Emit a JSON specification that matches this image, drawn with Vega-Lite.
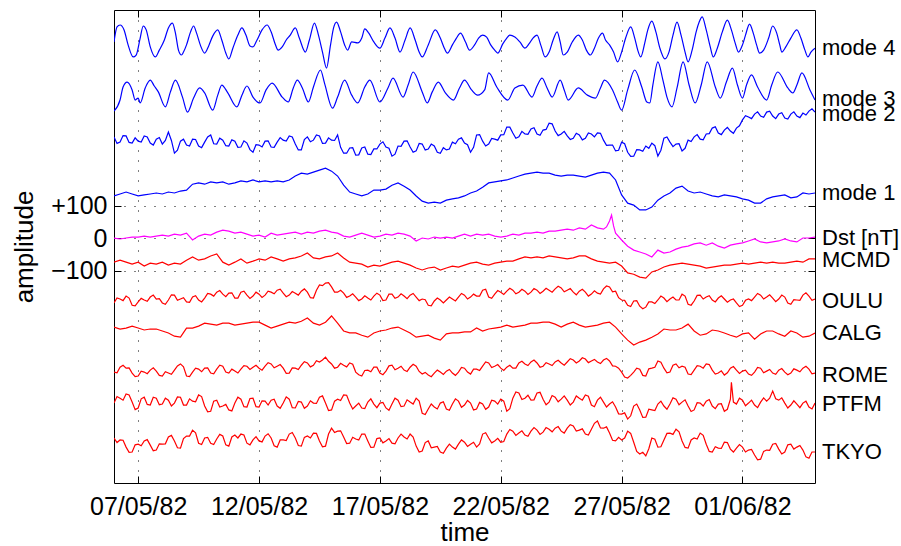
{
"$schema":"https://vega.github.io/schema/vega-lite/v6.json",
"width":701,"height":473,
"autosize":{"type":"none"},
"padding":{"left":114,"top":10,"right":86,"bottom":63},
"background":"#ffffff",
"config":{"font":"Liberation Sans","view":{"stroke":"#000000","strokeWidth":1},"axis":{"labelFont":"Liberation Sans","titleFont":"Liberation Sans","labelColor":"#000000","titleColor":"#000000","titleFontWeight":"normal","tickColor":"#000000","tickWidth":1,"domain":false,"labelFlush":false,"labelOverlap":false}},
"resolve":{"axis":{"x":"independent","y":"independent"}},
"data":{"values":[
{"h":0,"m2":311,"m1":130,"dst":1,"mcmd":-73,"oulu":-198,"calg":-272,"rome":-410,"ptfm":-505,"tkyo":-612},
{"h":6,"m2":295,"m1":136,"dst":-2,"mcmd":-67,"oulu":-186,"calg":-278,"rome":-395,"ptfm":-490,"tkyo":-618},
{"h":12,"m2":314,"m1":142,"dst":1,"mcmd":-73,"oulu":-177,"calg":-275,"rome":-398,"ptfm":-477,"tkyo":-640},
{"h":18,"m2":292,"m1":136,"dst":4,"mcmd":-79,"oulu":-205,"calg":-269,"rome":-413,"ptfm":-502,"tkyo":-655},
{"h":24,"m2":298,"m1":130,"dst":4,"mcmd":-73,"oulu":-195,"calg":-275,"rome":-422,"ptfm":-520,"tkyo":-631},
{"h":30,"m2":314,"m1":133,"dst":7,"mcmd":-85,"oulu":-189,"calg":-281,"rome":-410,"ptfm":-487,"tkyo":-621},
{"h":36,"m2":292,"m1":136,"dst":4,"mcmd":-76,"oulu":-180,"calg":-278,"rome":-404,"ptfm":-511,"tkyo":-634},
{"h":42,"m2":304,"m1":139,"dst":7,"mcmd":-79,"oulu":-186,"calg":-278,"rome":-407,"ptfm":-490,"tkyo":-649},
{"h":48,"m2":289,"m1":136,"dst":10,"mcmd":-73,"oulu":-198,"calg":-284,"rome":-422,"ptfm":-508,"tkyo":-631},
{"h":54,"m2":326,"m1":142,"dst":7,"mcmd":-82,"oulu":-189,"calg":-290,"rome":-413,"ptfm":-496,"tkyo":-609},
{"h":60,"m2":261,"m1":139,"dst":13,"mcmd":-76,"oulu":-174,"calg":-300,"rome":-404,"ptfm":-505,"tkyo":-621},
{"h":66,"m2":298,"m1":145,"dst":10,"mcmd":-79,"oulu":-186,"calg":-303,"rome":-385,"ptfm":-487,"tkyo":-643},
{"h":72,"m2":286,"m1":148,"dst":16,"mcmd":-67,"oulu":-195,"calg":-275,"rome":-422,"ptfm":-511,"tkyo":-606},
{"h":78,"m2":304,"m1":166,"dst":-5,"mcmd":-57,"oulu":-180,"calg":-275,"rome":-410,"ptfm":-499,"tkyo":-588},
{"h":84,"m2":283,"m1":170,"dst":7,"mcmd":-67,"oulu":-189,"calg":-269,"rome":-401,"ptfm":-480,"tkyo":-628},
{"h":90,"m2":295,"m1":166,"dst":13,"mcmd":-63,"oulu":-183,"calg":-260,"rome":-398,"ptfm":-514,"tkyo":-612},
{"h":96,"m2":317,"m1":173,"dst":10,"mcmd":-54,"oulu":-171,"calg":-263,"rome":-413,"ptfm":-530,"tkyo":-628},
{"h":102,"m2":289,"m1":170,"dst":19,"mcmd":-48,"oulu":-165,"calg":-266,"rome":-401,"ptfm":-496,"tkyo":-615},
{"h":108,"m2":301,"m1":173,"dst":25,"mcmd":-73,"oulu":-171,"calg":-260,"rome":-392,"ptfm":-514,"tkyo":-606},
{"h":114,"m2":283,"m1":166,"dst":22,"mcmd":-82,"oulu":-168,"calg":-260,"rome":-413,"ptfm":-526,"tkyo":-637},
{"h":120,"m2":298,"m1":170,"dst":16,"mcmd":-73,"oulu":-183,"calg":-266,"rome":-407,"ptfm":-505,"tkyo":-603},
{"h":126,"m2":280,"m1":176,"dst":19,"mcmd":-63,"oulu":-165,"calg":-263,"rome":-401,"ptfm":-493,"tkyo":-600},
{"h":132,"m2":292,"m1":173,"dst":13,"mcmd":-76,"oulu":-174,"calg":-260,"rome":-392,"ptfm":-517,"tkyo":-628},
{"h":138,"m2":264,"m1":179,"dst":7,"mcmd":-70,"oulu":-177,"calg":-257,"rome":-395,"ptfm":-490,"tkyo":-618},
{"h":144,"m2":286,"m1":173,"dst":10,"mcmd":-63,"oulu":-171,"calg":-257,"rome":-398,"ptfm":-517,"tkyo":-621},
{"h":150,"m2":298,"m1":176,"dst":4,"mcmd":-67,"oulu":-174,"calg":-266,"rome":-392,"ptfm":-499,"tkyo":-606},
{"h":156,"m2":280,"m1":173,"dst":16,"mcmd":-57,"oulu":-165,"calg":-275,"rome":-385,"ptfm":-496,"tkyo":-612},
{"h":162,"m2":295,"m1":176,"dst":10,"mcmd":-63,"oulu":-159,"calg":-269,"rome":-392,"ptfm":-514,"tkyo":-640},
{"h":168,"m2":301,"m1":173,"dst":13,"mcmd":-70,"oulu":-168,"calg":-263,"rome":-398,"ptfm":-505,"tkyo":-618},
{"h":174,"m2":314,"m1":179,"dst":16,"mcmd":-63,"oulu":-174,"calg":-257,"rome":-413,"ptfm":-493,"tkyo":-600},
{"h":180,"m2":289,"m1":191,"dst":19,"mcmd":-60,"oulu":-168,"calg":-260,"rome":-398,"ptfm":-520,"tkyo":-612},
{"h":186,"m2":271,"m1":200,"dst":13,"mcmd":-54,"oulu":-162,"calg":-254,"rome":-389,"ptfm":-502,"tkyo":-637},
{"h":192,"m2":311,"m1":197,"dst":19,"mcmd":-45,"oulu":-165,"calg":-244,"rome":-382,"ptfm":-514,"tkyo":-606},
{"h":198,"m2":301,"m1":203,"dst":16,"mcmd":-60,"oulu":-183,"calg":-260,"rome":-389,"ptfm":-505,"tkyo":-597},
{"h":204,"m2":314,"m1":209,"dst":22,"mcmd":-63,"oulu":-143,"calg":-266,"rome":-379,"ptfm":-487,"tkyo":-621},
{"h":210,"m2":292,"m1":215,"dst":25,"mcmd":-57,"oulu":-137,"calg":-257,"rome":-364,"ptfm":-505,"tkyo":-637},
{"h":216,"m2":301,"m1":206,"dst":19,"mcmd":-54,"oulu":-149,"calg":-238,"rome":-385,"ptfm":-526,"tkyo":-582},
{"h":222,"m2":317,"m1":191,"dst":16,"mcmd":-45,"oulu":-165,"calg":-260,"rome":-395,"ptfm":-493,"tkyo":-591},
{"h":228,"m2":261,"m1":163,"dst":7,"mcmd":-60,"oulu":-168,"calg":-284,"rome":-389,"ptfm":-480,"tkyo":-609},
{"h":234,"m2":277,"m1":142,"dst":4,"mcmd":-73,"oulu":-177,"calg":-290,"rome":-382,"ptfm":-505,"tkyo":-628},
{"h":240,"m2":255,"m1":136,"dst":10,"mcmd":-76,"oulu":-180,"calg":-290,"rome":-410,"ptfm":-514,"tkyo":-615},
{"h":246,"m2":277,"m1":130,"dst":16,"mcmd":-79,"oulu":-186,"calg":-297,"rome":-422,"ptfm":-520,"tkyo":-600},
{"h":252,"m2":258,"m1":136,"dst":10,"mcmd":-88,"oulu":-183,"calg":-303,"rome":-404,"ptfm":-502,"tkyo":-621},
{"h":258,"m2":274,"m1":148,"dst":4,"mcmd":-82,"oulu":-177,"calg":-290,"rome":-395,"ptfm":-508,"tkyo":-640},
{"h":264,"m2":289,"m1":148,"dst":7,"mcmd":-85,"oulu":-174,"calg":-284,"rome":-413,"ptfm":-505,"tkyo":-612},
{"h":270,"m2":280,"m1":151,"dst":13,"mcmd":-79,"oulu":-189,"calg":-281,"rome":-407,"ptfm":-520,"tkyo":-621},
{"h":276,"m2":252,"m1":163,"dst":10,"mcmd":-73,"oulu":-171,"calg":-275,"rome":-389,"ptfm":-508,"tkyo":-628},
{"h":282,"m2":283,"m1":170,"dst":16,"mcmd":-70,"oulu":-180,"calg":-272,"rome":-398,"ptfm":-496,"tkyo":-612},
{"h":288,"m2":298,"m1":160,"dst":13,"mcmd":-76,"oulu":-177,"calg":-281,"rome":-404,"ptfm":-514,"tkyo":-609},
{"h":294,"m2":280,"m1":148,"dst":7,"mcmd":-82,"oulu":-174,"calg":-290,"rome":-395,"ptfm":-502,"tkyo":-600},
{"h":300,"m2":268,"m1":130,"dst":-8,"mcmd":-91,"oulu":-180,"calg":-303,"rome":-392,"ptfm":-490,"tkyo":-637},
{"h":306,"m2":289,"m1":114,"dst":1,"mcmd":-97,"oulu":-186,"calg":-300,"rome":-416,"ptfm":-536,"tkyo":-652},
{"h":312,"m2":274,"m1":108,"dst":-2,"mcmd":-91,"oulu":-205,"calg":-297,"rome":-419,"ptfm":-523,"tkyo":-621},
{"h":318,"m2":283,"m1":111,"dst":4,"mcmd":-88,"oulu":-192,"calg":-306,"rome":-413,"ptfm":-517,"tkyo":-640},
{"h":324,"m2":261,"m1":108,"dst":1,"mcmd":-97,"oulu":-189,"calg":-312,"rome":-410,"ptfm":-505,"tkyo":-655},
{"h":330,"m2":271,"m1":117,"dst":4,"mcmd":-91,"oulu":-189,"calg":-293,"rome":-407,"ptfm":-523,"tkyo":-643},
{"h":336,"m2":295,"m1":121,"dst":1,"mcmd":-85,"oulu":-186,"calg":-290,"rome":-413,"ptfm":-508,"tkyo":-640},
{"h":342,"m2":304,"m1":124,"dst":7,"mcmd":-88,"oulu":-180,"calg":-290,"rome":-410,"ptfm":-499,"tkyo":-631},
{"h":348,"m2":292,"m1":130,"dst":13,"mcmd":-82,"oulu":-174,"calg":-287,"rome":-398,"ptfm":-511,"tkyo":-625},
{"h":354,"m2":264,"m1":139,"dst":7,"mcmd":-76,"oulu":-180,"calg":-287,"rome":-416,"ptfm":-505,"tkyo":-631},
{"h":360,"m2":317,"m1":145,"dst":13,"mcmd":-73,"oulu":-177,"calg":-275,"rome":-401,"ptfm":-523,"tkyo":-640},
{"h":366,"m2":298,"m1":157,"dst":10,"mcmd":-79,"oulu":-159,"calg":-284,"rome":-392,"ptfm":-508,"tkyo":-600},
{"h":372,"m2":289,"m1":170,"dst":13,"mcmd":-82,"oulu":-180,"calg":-278,"rome":-382,"ptfm":-517,"tkyo":-612},
{"h":378,"m2":304,"m1":173,"dst":7,"mcmd":-76,"oulu":-171,"calg":-275,"rome":-392,"ptfm":-499,"tkyo":-621},
{"h":384,"m2":317,"m1":176,"dst":4,"mcmd":-73,"oulu":-165,"calg":-272,"rome":-398,"ptfm":-493,"tkyo":-625},
{"h":390,"m2":341,"m1":179,"dst":7,"mcmd":-70,"oulu":-162,"calg":-266,"rome":-395,"ptfm":-530,"tkyo":-600},
{"h":396,"m2":323,"m1":185,"dst":13,"mcmd":-70,"oulu":-159,"calg":-272,"rome":-398,"ptfm":-490,"tkyo":-591},
{"h":402,"m2":311,"m1":191,"dst":10,"mcmd":-63,"oulu":-165,"calg":-269,"rome":-382,"ptfm":-474,"tkyo":-597},
{"h":408,"m2":320,"m1":197,"dst":16,"mcmd":-57,"oulu":-162,"calg":-266,"rome":-385,"ptfm":-490,"tkyo":-603},
{"h":414,"m2":335,"m1":200,"dst":16,"mcmd":-60,"oulu":-165,"calg":-260,"rome":-379,"ptfm":-496,"tkyo":-591},
{"h":420,"m2":320,"m1":203,"dst":19,"mcmd":-57,"oulu":-159,"calg":-260,"rome":-382,"ptfm":-474,"tkyo":-588},
{"h":426,"m2":332,"m1":200,"dst":16,"mcmd":-60,"oulu":-162,"calg":-257,"rome":-392,"ptfm":-493,"tkyo":-594},
{"h":432,"m2":353,"m1":200,"dst":22,"mcmd":-54,"oulu":-159,"calg":-257,"rome":-385,"ptfm":-502,"tkyo":-585},
{"h":438,"m2":329,"m1":194,"dst":22,"mcmd":-57,"oulu":-155,"calg":-263,"rome":-379,"ptfm":-487,"tkyo":-582},
{"h":444,"m2":320,"m1":191,"dst":25,"mcmd":-60,"oulu":-152,"calg":-272,"rome":-382,"ptfm":-493,"tkyo":-591},
{"h":450,"m2":314,"m1":194,"dst":28,"mcmd":-63,"oulu":-159,"calg":-263,"rome":-379,"ptfm":-496,"tkyo":-582},
{"h":456,"m2":307,"m1":194,"dst":25,"mcmd":-60,"oulu":-165,"calg":-257,"rome":-373,"ptfm":-502,"tkyo":-575},
{"h":462,"m2":317,"m1":191,"dst":32,"mcmd":-54,"oulu":-162,"calg":-266,"rome":-376,"ptfm":-490,"tkyo":-588},
{"h":468,"m2":307,"m1":188,"dst":28,"mcmd":-54,"oulu":-165,"calg":-272,"rome":-370,"ptfm":-480,"tkyo":-600},
{"h":474,"m2":320,"m1":194,"dst":41,"mcmd":-63,"oulu":-171,"calg":-269,"rome":-376,"ptfm":-511,"tkyo":-585},
{"h":480,"m2":323,"m1":200,"dst":32,"mcmd":-70,"oulu":-168,"calg":-266,"rome":-379,"ptfm":-496,"tkyo":-560},
{"h":486,"m2":301,"m1":203,"dst":28,"mcmd":-73,"oulu":-155,"calg":-260,"rome":-373,"ptfm":-502,"tkyo":-582},
{"h":492,"m2":286,"m1":200,"dst":53,"mcmd":-76,"oulu":-149,"calg":-257,"rome":-376,"ptfm":-508,"tkyo":-597},
{"h":494,"dst":71},
{"h":496,"dst":38},
{"h":498,"m2":268,"m1":179,"dst":16,"mcmd":-73,"oulu":-162,"calg":-272,"rome":-392,"ptfm":-517,"tkyo":-621},
{"h":504,"m2":295,"m1":133,"dst":-5,"mcmd":-85,"oulu":-189,"calg":-293,"rome":-410,"ptfm":-539,"tkyo":-618},
{"h":510,"m2":264,"m1":108,"dst":-24,"mcmd":-106,"oulu":-205,"calg":-312,"rome":-428,"ptfm":-554,"tkyo":-591},
{"h":516,"m2":252,"m1":102,"dst":-36,"mcmd":-110,"oulu":-192,"calg":-327,"rome":-410,"ptfm":-514,"tkyo":-625},
{"h":522,"m2":271,"m1":87,"dst":-42,"mcmd":-119,"oulu":-208,"calg":-318,"rome":-401,"ptfm":-526,"tkyo":-661},
{"h":528,"m2":283,"m1":87,"dst":-48,"mcmd":-122,"oulu":-211,"calg":-312,"rome":-422,"ptfm":-548,"tkyo":-667},
{"h":534,"m2":292,"m1":96,"dst":-57,"mcmd":-103,"oulu":-195,"calg":-303,"rome":-398,"ptfm":-526,"tkyo":-612},
{"h":540,"m2":252,"m1":117,"dst":-36,"mcmd":-97,"oulu":-189,"calg":-293,"rome":-376,"ptfm":-508,"tkyo":-640},
{"h":546,"m2":307,"m1":130,"dst":-45,"mcmd":-88,"oulu":-183,"calg":-278,"rome":-398,"ptfm":-514,"tkyo":-618},
{"h":552,"m2":295,"m1":139,"dst":-42,"mcmd":-82,"oulu":-186,"calg":-281,"rome":-410,"ptfm":-508,"tkyo":-597},
{"h":558,"m2":289,"m1":154,"dst":-33,"mcmd":-79,"oulu":-189,"calg":-281,"rome":-385,"ptfm":-493,"tkyo":-585},
{"h":564,"m2":268,"m1":160,"dst":-27,"mcmd":-76,"oulu":-171,"calg":-275,"rome":-392,"ptfm":-502,"tkyo":-621},
{"h":570,"m2":301,"m1":145,"dst":-24,"mcmd":-79,"oulu":-202,"calg":-263,"rome":-416,"ptfm":-514,"tkyo":-643},
{"h":576,"m2":311,"m1":139,"dst":-17,"mcmd":-82,"oulu":-192,"calg":-284,"rome":-404,"ptfm":-526,"tkyo":-612},
{"h":582,"m2":304,"m1":142,"dst":-14,"mcmd":-85,"oulu":-174,"calg":-297,"rome":-392,"ptfm":-505,"tkyo":-597},
{"h":588,"m2":320,"m1":136,"dst":-21,"mcmd":-91,"oulu":-180,"calg":-293,"rome":-385,"ptfm":-499,"tkyo":-631},
{"h":594,"m2":338,"m1":130,"dst":-14,"mcmd":-88,"oulu":-189,"calg":-281,"rome":-404,"ptfm":-514,"tkyo":-655},
{"h":600,"m2":323,"m1":127,"dst":-24,"mcmd":-85,"oulu":-183,"calg":-284,"rome":-413,"ptfm":-508,"tkyo":-643},
{"h":606,"m2":332,"m1":133,"dst":-30,"mcmd":-82,"oulu":-186,"calg":-290,"rome":-419,"ptfm":-530,"tkyo":-625},
{"h":612,"m2":329,"m1":130,"dst":-21,"mcmd":-82,"oulu":-189,"calg":-297,"rome":-398,"ptfm":-493,"tkyo":-646},
{"h":613,"ptfm":-441},
{"h":618,"m2":338,"m1":127,"dst":-17,"mcmd":-79,"oulu":-198,"calg":-303,"rome":-404,"ptfm":-508,"tkyo":-643},
{"h":624,"m2":363,"m1":121,"dst":-14,"mcmd":-76,"oulu":-205,"calg":-293,"rome":-407,"ptfm":-496,"tkyo":-640},
{"h":630,"m2":372,"m1":117,"dst":-8,"mcmd":-79,"oulu":-186,"calg":-290,"rome":-416,"ptfm":-505,"tkyo":-649},
{"h":636,"m2":381,"m1":108,"dst":-2,"mcmd":-76,"oulu":-180,"calg":-309,"rome":-410,"ptfm":-511,"tkyo":-664},
{"h":642,"m2":375,"m1":108,"dst":-11,"mcmd":-73,"oulu":-174,"calg":-293,"rome":-398,"ptfm":-502,"tkyo":-677},
{"h":648,"m2":387,"m1":121,"dst":-14,"mcmd":-76,"oulu":-180,"calg":-284,"rome":-407,"ptfm":-499,"tkyo":-649},
{"h":654,"m2":375,"m1":127,"dst":-11,"mcmd":-73,"oulu":-183,"calg":-284,"rome":-413,"ptfm":-468,"tkyo":-631},
{"h":660,"m2":381,"m1":130,"dst":-8,"mcmd":-76,"oulu":-186,"calg":-293,"rome":-404,"ptfm":-496,"tkyo":-646},
{"h":666,"m2":369,"m1":133,"dst":-2,"mcmd":-76,"oulu":-180,"calg":-300,"rome":-410,"ptfm":-505,"tkyo":-655},
{"h":672,"m2":381,"m1":124,"dst":-8,"mcmd":-73,"oulu":-202,"calg":-284,"rome":-413,"ptfm":-511,"tkyo":-631},
{"h":678,"m2":375,"m1":127,"dst":-11,"mcmd":-70,"oulu":-189,"calg":-290,"rome":-404,"ptfm":-508,"tkyo":-640},
{"h":684,"m2":384,"m1":139,"dst":1,"mcmd":-73,"oulu":-174,"calg":-303,"rome":-398,"ptfm":-505,"tkyo":-649},
{"h":690,"m2":390,"m1":136,"dst":1,"mcmd":-63,"oulu":-177,"calg":-300,"rome":-401,"ptfm":-517,"tkyo":-674},
{"h":696,"m2":387,"m1":139,"dst":4,"mcmd":-63,"oulu":-186,"calg":-290,"rome":-413,"ptfm":-505,"tkyo":-655},
{"h":3,"m2":291,"oulu":-183,"rome":-412,"ptfm":-485,"tkyo":-626},
{"h":9,"m2":315,"oulu":-191,"rome":-389,"ptfm":-496,"tkyo":-619},
{"h":15,"m2":294,"oulu":-183,"rome":-397,"ptfm":-480,"tkyo":-656},
{"h":21,"m2":308,"oulu":-207,"rome":-424,"ptfm":-525,"tkyo":-633},
{"h":27,"m2":295,"oulu":-184,"rome":-407,"ptfm":-492,"tkyo":-636},
{"h":33,"m2":311,"oulu":-193,"rome":-415,"ptfm":-509,"tkyo":-617},
{"h":39,"m2":286,"oulu":-174,"rome":-397,"ptfm":-487,"tkyo":-651},
{"h":45,"m2":309,"oulu":-185,"rome":-420,"ptfm":-510,"tkyo":-630},
{"h":51,"m2":300,"oulu":-202,"rome":-409,"ptfm":-490,"tkyo":-630},
{"h":57,"m2":300,"oulu":-173,"rome":-417,"ptfm":-514,"tkyo":-604},
{"h":63,"m2":270,"oulu":-190,"rome":-391,"ptfm":-486,"tkyo":-642},
{"h":69,"m2":304,"oulu":-182,"rome":-394,"ptfm":-511,"tkyo":-614},
{"h":75,"m2":283,"oulu":-196,"rome":-424,"ptfm":-492,"tkyo":-606},
{"h":81,"m2":303,"oulu":-176,"rome":-398,"ptfm":-501,"tkyo":-596},
{"h":87,"m2":278,"oulu":-195,"rome":-409,"ptfm":-485,"tkyo":-632},
{"h":93,"m2":311,"oulu":-169,"rome":-397,"ptfm":-532,"tkyo":-610},
{"h":99,"m2":290,"oulu":-177,"rome":-415,"ptfm":-499,"tkyo":-632},
{"h":105,"m2":307,"oulu":-160,"rome":-389,"ptfm":-517,"tkyo":-601},
{"h":111,"m2":284,"oulu":-179,"rome":-410,"ptfm":-509,"tkyo":-633},
{"h":117,"m2":302,"oulu":-167,"rome":-401,"ptfm":-529,"tkyo":-609},
{"h":123,"m2":279,"oulu":-183,"rome":-413,"ptfm":-487,"tkyo":-612},
{"h":129,"m2":299,"oulu":-162,"rome":-390,"ptfm":-516,"tkyo":-603},
{"h":135,"m2":272,"oulu":-184,"rome":-402,"ptfm":-491,"tkyo":-633},
{"h":141,"m2":287,"oulu":-165,"rome":-389,"ptfm":-516,"tkyo":-608},
{"h":147,"m2":280,"oulu":-181,"rome":-404,"ptfm":-498,"tkyo":-624},
{"h":153,"m2":299,"oulu":-162,"rome":-381,"ptfm":-511,"tkyo":-599},
{"h":159,"m2":279,"oulu":-170,"rome":-397,"ptfm":-493,"tkyo":-636},
{"h":165,"m2":309,"oulu":-156,"rome":-387,"ptfm":-521,"tkyo":-618},
{"h":171,"m2":298,"oulu":-179,"rome":-414,"ptfm":-486,"tkyo":-620},
{"h":177,"m2":311,"oulu":-163,"rome":-397,"ptfm":-519,"tkyo":-595},
{"h":183,"m2":271,"oulu":-174,"rome":-402,"ptfm":-500,"tkyo":-635},
{"h":189,"m2":303,"oulu":-155,"rome":-378,"ptfm":-521,"tkyo":-610},
{"h":195,"m2":296,"oulu":-182,"rome":-394,"ptfm":-498,"tkyo":-612},
{"h":201,"m2":317,"oulu":-159,"rome":-375,"ptfm":-506,"tkyo":-598},
{"h":207,"m2":291,"oulu":-145,"rome":-373,"ptfm":-483,"tkyo":-639},
{"h":213,"m2":308,"oulu":-136,"rome":-377,"ptfm":-528,"tkyo":-600},
{"h":219,"m2":300,"oulu":-165,"rome":-398,"ptfm":-499,"tkyo":-595},
{"h":225,"m2":279,"oulu":-159,"rome":-383,"ptfm":-497,"tkyo":-590},
{"h":231,"m2":261,"oulu":-181,"rome":-394,"ptfm":-481,"tkyo":-629},
{"h":237,"m2":278,"oulu":-170,"rome":-386,"ptfm":-523,"tkyo":-610},
{"h":243,"m2":256,"oulu":-191,"rome":-418,"ptfm":-505,"tkyo":-618},
{"h":249,"m2":280,"oulu":-176,"rome":-405,"ptfm":-522,"tkyo":-600},
{"h":255,"m2":257,"oulu":-189,"rome":-409,"ptfm":-492,"tkyo":-641},
{"h":261,"m2":274,"oulu":-168,"rome":-395,"ptfm":-519,"tkyo":-614},
{"h":267,"m2":296,"oulu":-191,"rome":-418,"ptfm":-503,"tkyo":-627},
{"h":273,"m2":276,"oulu":-171,"rome":-391,"ptfm":-527,"tkyo":-614},
{"h":279,"m2":258,"oulu":-184,"rome":-403,"ptfm":-490,"tkyo":-630},
{"h":285,"m2":282,"oulu":-170,"rome":-392,"ptfm":-516,"tkyo":-600},
{"h":291,"m2":299,"oulu":-185,"rome":-408,"ptfm":-495,"tkyo":-615},
{"h":297,"m2":264,"oulu":-169,"rome":-386,"ptfm":-508,"tkyo":-609},
{"h":303,"m2":291,"oulu":-191,"rome":-408,"ptfm":-499,"tkyo":-655},
{"h":309,"m2":271,"oulu":-188,"rome":-411,"ptfm":-540,"tkyo":-626},
{"h":315,"m2":289,"oulu":-207,"rome":-424,"ptfm":-508,"tkyo":-642},
{"h":321,"m2":264,"oulu":-183,"rome":-404,"ptfm":-523,"tkyo":-638},
{"h":327,"m2":278,"oulu":-198,"rome":-417,"ptfm":-501,"tkyo":-659},
{"h":333,"m2":274,"oulu":-180,"rome":-402,"ptfm":-527,"tkyo":-631},
{"h":339,"m2":290,"oulu":-192,"rome":-420,"ptfm":-492,"tkyo":-646},
{"h":345,"m2":308,"oulu":-169,"rome":-396,"ptfm":-518,"tkyo":-618},
{"h":351,"m2":287,"oulu":-186,"rome":-410,"ptfm":-497,"tkyo":-638},
{"h":357,"m2":279,"oulu":-171,"rome":-401,"ptfm":-526,"tkyo":-625},
{"h":363,"m2":318,"oulu":-177,"rome":-405,"ptfm":-503,"tkyo":-630},
{"h":369,"m2":283,"oulu":-156,"rome":-379,"ptfm":-524,"tkyo":-596},
{"h":375,"m2":306,"oulu":-184,"rome":-396,"ptfm":-496,"tkyo":-627},
{"h":381,"m2":301,"oulu":-160,"rome":-387,"ptfm":-508,"tkyo":-613},
{"h":387,"m2":318,"oulu":-172,"rome":-405,"ptfm":-499,"tkyo":-623},
{"h":393,"m2":341,"oulu":-153,"rome":-389,"ptfm":-522,"tkyo":-586},
{"h":399,"m2":307,"oulu":-170,"rome":-398,"ptfm":-471,"tkyo":-604},
{"h":405,"m2":328,"oulu":-156,"rome":-377,"ptfm":-494,"tkyo":-590},
{"h":411,"m2":319,"oulu":-172,"rome":-390,"ptfm":-481,"tkyo":-607},
{"h":417,"m2":339,"oulu":-154,"rome":-373,"ptfm":-495,"tkyo":-580},
{"h":423,"m2":316,"oulu":-169,"rome":-395,"ptfm":-472,"tkyo":-601},
{"h":429,"m2":334,"oulu":-153,"rome":-381,"ptfm":-510,"tkyo":-580},
{"h":435,"m2":351,"oulu":-165,"rome":-390,"ptfm":-482,"tkyo":-593},
{"h":441,"m2":315,"oulu":-147,"rome":-374,"ptfm":-501,"tkyo":-577},
{"h":447,"m2":328,"oulu":-164,"rome":-389,"ptfm":-483,"tkyo":-597},
{"h":453,"m2":303,"oulu":-154,"rome":-369,"ptfm":-511,"tkyo":-571},
{"h":459,"m2":322,"oulu":-173,"rome":-382,"ptfm":-483,"tkyo":-591},
{"h":465,"m2":302,"oulu":-156,"rome":-366,"ptfm":-496,"tkyo":-584},
{"h":471,"m2":323,"oulu":-177,"rome":-381,"ptfm":-484,"tkyo":-603},
{"h":477,"m2":311,"oulu":-161,"rome":-371,"ptfm":-516,"tkyo":-567},
{"h":483,"m2":322,"oulu":-171,"rome":-384,"ptfm":-487,"tkyo":-581},
{"h":489,"m2":285,"oulu":-146,"rome":-368,"ptfm":-517,"tkyo":-578,"dst":35},
{"h":495,"m2":286,"oulu":-164,"rome":-391,"ptfm":-501,"tkyo":-619},
{"h":501,"m2":270,"oulu":-182,"rome":-398,"ptfm":-538,"tkyo":-610},
{"h":507,"m2":290,"oulu":-190,"rome":-425,"ptfm":-535,"tkyo":-612},
{"h":513,"m2":251,"oulu":-209,"rome":-420,"ptfm":-544,"tkyo":-598},
{"h":519,"m2":272,"oulu":-191,"rome":-398,"ptfm":-508,"tkyo":-653},
{"h":525,"m2":267,"oulu":-216,"rome":-420,"ptfm":-549,"tkyo":-656},
{"h":531,"m2":276,"oulu":-195,"rome":-400,"ptfm":-524,"tkyo":-645},
{"h":537,"m2":284,"oulu":-200,"rome":-395,"ptfm":-528,"tkyo":-616},
{"h":543,"m2":270,"oulu":-177,"rome":-380,"ptfm":-499,"tkyo":-639},
{"h":549,"m2":311,"oulu":-194,"rome":-412,"ptfm":-524,"tkyo":-598},
{"h":555,"m2":281,"oulu":-180,"rome":-389,"ptfm":-489,"tkyo":-601},
{"h":561,"m2":290,"oulu":-189,"rome":-397,"ptfm":-510,"tkyo":-593},
{"h":567,"m2":276,"oulu":-177,"rome":-395,"ptfm":-495,"tkyo":-641},
{"h":573,"m2":297,"oulu":-205,"rome":-418,"ptfm":-531,"tkyo":-618},
{"h":579,"m2":318,"oulu":-175,"rome":-390,"ptfm":-504,"tkyo":-615},
{"h":585,"m2":302,"oulu":-186,"rome":-398,"ptfm":-514,"tkyo":-604},
{"h":591,"m2":321,"oulu":-176,"rome":-387,"ptfm":-494,"tkyo":-653},
{"h":597,"m2":342,"oulu":-195,"rome":-416,"ptfm":-522,"tkyo":-639},
{"h":603,"m2":318,"oulu":-176,"rome":-406,"ptfm":-507,"tkyo":-644},
{"h":609,"m2":340,"oulu":-196,"rome":-412,"ptfm":-524,"tkyo":-626},
{"h":615,"m2":322,"oulu":-186,"rome":-393,"ptfm":-502,"tkyo":-655},
{"h":621,"m2":345,"oulu":-209,"rome":-414,"ptfm":-490,"tkyo":-632},
{"h":627,"m2":376,"oulu":-190,"rome":-404,"ptfm":-513,"tkyo":-655},
{"h":633,"m2":367,"oulu":-191,"rome":-420,"ptfm":-496,"tkyo":-647},
{"h":639,"m2":388,"oulu":-169,"rome":-396,"ptfm":-519,"tkyo":-679},
{"h":645,"m2":371,"oulu":-186,"rome":-412,"ptfm":-489,"tkyo":-653},
{"h":651,"m2":390,"oulu":-173,"rome":-402,"ptfm":-490,"tkyo":-650},
{"h":657,"m2":367,"oulu":-194,"rome":-417,"ptfm":-492,"tkyo":-629},
{"h":663,"m2":385,"oulu":-174,"rome":-399,"ptfm":-489,"tkyo":-661},
{"h":669,"m2":366,"oulu":-198,"rome":-418,"ptfm":-520,"tkyo":-633},
{"h":675,"m2":388,"oulu":-188,"rome":-400,"ptfm":-498,"tkyo":-646},
{"h":681,"m2":370,"oulu":-190,"rome":-409,"ptfm":-519,"tkyo":-635},
{"h":687,"m2":378,"oulu":-167,"rome":-392,"ptfm":-499,"tkyo":-670},
{"h":693,"m2":397,"oulu":-190,"rome":-415,"ptfm":-523,"tkyo":-655},
{"h":0,"m4":602},{"h":3,"m4":648},{"h":6,"m4":654},{"h":10,"m4":639},{"h":14,"m4":593},{"h":19,"m4":556},{"h":22,"m4":562},{"h":26,"m4":614},{"h":29,"m4":651},{"h":32,"m4":639},{"h":36,"m4":587},{"h":41,"m4":556},{"h":45,"m4":577},{"h":50,"m4":608},{"h":54,"m4":645},{"h":58,"m4":660},{"h":61,"m4":629},{"h":64,"m4":577},{"h":67,"m4":562},{"h":69,"m4":571},{"h":72,"m4":593},{"h":76,"m4":633},{"h":79,"m4":651},{"h":82,"m4":629},{"h":86,"m4":590},{"h":90,"m4":568},{"h":94,"m4":590},{"h":98,"m4":620},{"h":103,"m4":639},{"h":107,"m4":608},{"h":111,"m4":568},{"h":114,"m4":550},{"h":118,"m4":583},{"h":123,"m4":623},{"h":127,"m4":645},{"h":131,"m4":623},{"h":135,"m4":590},{"h":138,"m4":587},{"h":142,"m4":608},{"h":147,"m4":639},{"h":152,"m4":654},{"h":156,"m4":633},{"h":160,"m4":596},{"h":163,"m4":577},{"h":167,"m4":587},{"h":171,"m4":608},{"h":175,"m4":623},{"h":180,"m4":645},{"h":184,"m4":614},{"h":190,"m4":571},{"h":194,"m4":608},{"h":199,"m4":660},{"h":203,"m4":623},{"h":207,"m4":571},{"h":211,"m4":522},{"h":215,"m4":593},{"h":218,"m4":645},{"h":221,"m4":663},{"h":225,"m4":633},{"h":229,"m4":593},{"h":232,"m4":577},{"h":236,"m4":602},{"h":242,"m4":599},{"h":246,"m4":614},{"h":249,"m4":642},{"h":253,"m4":629},{"h":258,"m4":602},{"h":264,"m4":583},{"h":269,"m4":614},{"h":274,"m4":645},{"h":279,"m4":614},{"h":284,"m4":571},{"h":289,"m4":608},{"h":294,"m4":645},{"h":299,"m4":608},{"h":303,"m4":571},{"h":306,"m4":556},{"h":312,"m4":593},{"h":319,"m4":639},{"h":324,"m4":614},{"h":328,"m4":583},{"h":331,"m4":568},{"h":336,"m4":593},{"h":340,"m4":614},{"h":344,"m4":629},{"h":349,"m4":602},{"h":353,"m4":577},{"h":358,"m4":593},{"h":362,"m4":614},{"h":366,"m4":623},{"h":370,"m4":617},{"h":374,"m4":593},{"h":378,"m4":577},{"h":381,"m4":568},{"h":386,"m4":596},{"h":390,"m4":614},{"h":393,"m4":623},{"h":398,"m4":617},{"h":403,"m4":602},{"h":408,"m4":583},{"h":412,"m4":596},{"h":416,"m4":614},{"h":420,"m4":623},{"h":424,"m4":590},{"h":428,"m4":556},{"h":432,"m4":571},{"h":436,"m4":608},{"h":440,"m4":633},{"h":443,"m4":602},{"h":446,"m4":562},{"h":450,"m4":571},{"h":455,"m4":602},{"h":461,"m4":623},{"h":465,"m4":608},{"h":469,"m4":577},{"h":473,"m4":562},{"h":477,"m4":583},{"h":481,"m4":614},{"h":485,"m4":629},{"h":488,"m4":608},{"h":492,"m4":593},{"h":496,"m4":571},{"h":500,"m4":541},{"h":504,"m4":571},{"h":508,"m4":614},{"h":513,"m4":648},{"h":517,"m4":614},{"h":520,"m4":577},{"h":523,"m4":556},{"h":527,"m4":599},{"h":530,"m4":639},{"h":534,"m4":666},{"h":538,"m4":633},{"h":542,"m4":583},{"h":547,"m4":550},{"h":551,"m4":571},{"h":555,"m4":623},{"h":559,"m4":663},{"h":563,"m4":623},{"h":567,"m4":571},{"h":570,"m4":541},{"h":574,"m4":577},{"h":578,"m4":633},{"h":581,"m4":663},{"h":584,"m4":679},{"h":588,"m4":639},{"h":592,"m4":587},{"h":595,"m4":556},{"h":599,"m4":583},{"h":604,"m4":633},{"h":609,"m4":669},{"h":613,"m4":639},{"h":617,"m4":596},{"h":620,"m4":571},{"h":624,"m4":593},{"h":627,"m4":623},{"h":631,"m4":657},{"h":635,"m4":626},{"h":638,"m4":593},{"h":641,"m4":568},{"h":645,"m4":577},{"h":650,"m4":614},{"h":654,"m4":651},{"h":658,"m4":629},{"h":661,"m4":593},{"h":663,"m4":571},{"h":667,"m4":587},{"h":672,"m4":614},{"h":678,"m4":639},{"h":682,"m4":614},{"h":686,"m4":577},{"h":689,"m4":556},{"h":692,"m4":571},{"h":696,"m4":583},
{"h":0,"m3":390},{"h":6,"m3":424},{"h":9,"m3":464},{"h":13,"m3":479},{"h":18,"m3":455},{"h":21,"m3":424},{"h":24,"m3":430},{"h":26,"m3":415},{"h":31,"m3":461},{"h":36,"m3":485},{"h":40,"m3":467},{"h":44,"m3":449},{"h":51,"m3":403},{"h":56,"m3":449},{"h":61,"m3":485},{"h":68,"m3":433},{"h":73,"m3":387},{"h":79,"m3":430},{"h":85,"m3":461},{"h":90,"m3":446},{"h":98,"m3":393},{"h":103,"m3":439},{"h":107,"m3":470},{"h":113,"m3":446},{"h":122,"m3":403},{"h":127,"m3":439},{"h":132,"m3":467},{"h":138,"m3":433},{"h":145,"m3":415},{"h":151,"m3":455},{"h":157,"m3":476},{"h":167,"m3":433},{"h":173,"m3":418},{"h":178,"m3":461},{"h":182,"m3":485},{"h":187,"m3":461},{"h":193,"m3":418},{"h":198,"m3":464},{"h":205,"m3":516},{"h":209,"m3":476},{"h":217,"m3":399},{"h":222,"m3":433},{"h":229,"m3":485},{"h":236,"m3":439},{"h":242,"m3":415},{"h":249,"m3":464},{"h":254,"m3":485},{"h":264,"m3":418},{"h":272,"m3":461},{"h":277,"m3":491},{"h":287,"m3":433},{"h":292,"m3":470},{"h":297,"m3":510},{"h":306,"m3":449},{"h":311,"m3":415},{"h":316,"m3":449},{"h":322,"m3":479},{"h":329,"m3":446},{"h":337,"m3":424},{"h":343,"m3":461},{"h":348,"m3":485},{"h":355,"m3":455},{"h":361,"m3":439},{"h":368,"m3":455},{"h":372,"m3":507},{"h":380,"m3":464},{"h":391,"m3":424},{"h":398,"m3":461},{"h":406,"m3":470},{"h":415,"m3":433},{"h":420,"m3":467},{"h":425,"m3":491},{"h":430,"m3":461},{"h":435,"m3":433},{"h":443,"m3":485},{"h":447,"m3":455},{"h":451,"m3":424},{"h":461,"m3":461},{"h":470,"m3":439},{"h":478,"m3":430},{"h":483,"m3":461},{"h":487,"m3":485},{"h":495,"m3":455},{"h":500,"m3":418},{"h":504,"m3":393},{"h":510,"m3":455},{"h":517,"m3":516},{"h":524,"m3":464},{"h":529,"m3":418},{"h":532,"m3":415},{"h":535,"m3":470},{"h":540,"m3":541},{"h":545,"m3":485},{"h":549,"m3":433},{"h":554,"m3":403},{"h":559,"m3":461},{"h":565,"m3":541},{"h":571,"m3":470},{"h":577,"m3":415},{"h":583,"m3":470},{"h":589,"m3":541},{"h":597,"m3":464},{"h":602,"m3":430},{"h":608,"m3":479},{"h":614,"m3":522},{"h":619,"m3":470},{"h":624,"m3":430},{"h":628,"m3":470},{"h":633,"m3":501},{"h":639,"m3":464},{"h":648,"m3":424},{"h":653,"m3":470},{"h":659,"m3":510},{"h":669,"m3":461},{"h":674,"m3":446},{"h":678,"m3":470},{"h":683,"m3":507},{"h":691,"m3":455},{"h":696,"m3":424}
]},
"layer":[
{"transform":[{"fold":["m4","m3"],"as":["series","value"]},{"filter":"isValid(datum.value)"}],
"mark":{"type":"line","strokeWidth":1.2,"clip":true,"interpolate":"monotone"},
"encoding":{
"x":{"field":"h","type":"quantitative","scale":{"domain":[0,696],"nice":false,"zero":false},
"axis":{"orient":"bottom","values":[24,144,264,384,504,624],"labelExpr":"timeFormat(datetime(1982,4,6,datum.value),'%d/%m/%y')","labelFontSize":25,"labelPadding":18,"tickSize":-7,"grid":true,"gridColor":"#000000","gridDash":[1,9],"gridWidth":1,"title":"time","titleFontSize":26,"titleY":57,"titleBaseline":"alphabetic"}},
"y":{"field":"value","type":"quantitative","scale":{"domain":[-750,700],"nice":false,"zero":false},
"axis":{"orient":"left","values":[-100,0,100],"labelExpr":"datum.value > 0 ? '+' + datum.label : datum.label","labelFontSize":25,"labelPadding":14,"tickSize":-7,"grid":true,"gridColor":"#000000","gridDash":[1,9],"gridWidth":1,"title":"amplitude","titleFontSize":26,"titleX":-82,"titleY":236.5,"titleAngle":270,"titleAlign":"center","titleBaseline":"alphabetic"}},
"color":{"field":"series","type":"nominal","legend":null,"scale":{"domain":["m4","m3","m2","m1","dst","mcmd","oulu","calg","rome","ptfm","tkyo"],"range":["#0000ff","#0000ff","#0000ff","#0000ff","#ff00ff","#ff0000","#ff0000","#ff0000","#ff0000","#ff0000","#ff0000"]}}
}},
{"transform":[{"fold":["m2","m1","dst","mcmd","oulu","calg","rome","ptfm","tkyo"],"as":["series","value"]},{"filter":"isValid(datum.value)"}],
"mark":{"type":"line","strokeWidth":1.2,"clip":true},
"encoding":{
"x":{"field":"h","type":"quantitative","scale":{"domain":[0,696],"nice":false,"zero":false},"axis":null},
"y":{"field":"value","type":"quantitative","scale":{"domain":[-750,700],"nice":false,"zero":false},"axis":null},
"color":{"field":"series","type":"nominal","legend":null,"scale":{"domain":["m4","m3","m2","m1","dst","mcmd","oulu","calg","rome","ptfm","tkyo"],"range":["#0000ff","#0000ff","#0000ff","#0000ff","#ff00ff","#ff0000","#ff0000","#ff0000","#ff0000","#ff0000","#ff0000"]}}
}},
{"data":{"values":[
{"name":"mode 4","h":696,"v":584},
{"name":"mode 3","h":696,"v":426},
{"name":"mode 2","h":696,"v":380},
{"name":"mode 1","h":696,"v":140},
{"name":"Dst [nT]","h":696,"v":0},
{"name":"MCMD","h":696,"v":-67},
{"name":"OULU","h":696,"v":-192},
{"name":"CALG","h":696,"v":-290},
{"name":"ROME","h":696,"v":-419},
{"name":"PTFM","h":696,"v":-509},
{"name":"TKYO","h":696,"v":-654}
]},
"mark":{"type":"text","align":"left","baseline":"middle","dx":7,"fontSize":22,"font":"Liberation Sans","color":"#000000"},
"encoding":{
"x":{"field":"h","type":"quantitative","scale":{"domain":[0,696],"nice":false,"zero":false},"axis":{"orient":"top","values":[24,144,264,384,504,624],"labels":false,"grid":false,"tickSize":-7,"title":null}},
"y":{"field":"v","type":"quantitative","scale":{"domain":[-750,700],"nice":false,"zero":false},"axis":{"orient":"right","values":[-100,0,100],"labels":false,"grid":false,"tickSize":-7,"title":null}},
"text":{"field":"name"}
}}
]
}
